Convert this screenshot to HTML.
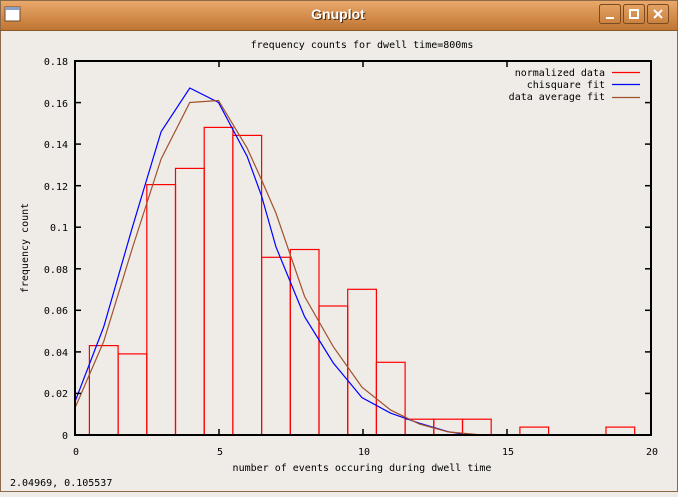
<!DOCTYPE html>
<html><head><style>
body{margin:0;width:678px;height:492px;overflow:hidden;background:#efebe7;}
</style></head><body>
<svg width="678" height="492" xmlns="http://www.w3.org/2000/svg" font-family="'DejaVu Sans Mono','Liberation Mono',monospace" font-size="10">
<defs>
<linearGradient id="tb" x1="0" y1="0" x2="0" y2="1">
<stop offset="0" stop-color="#e9a86a"/><stop offset="1" stop-color="#c07532"/>
</linearGradient>
</defs>
<rect x="0" y="0" width="678" height="492" fill="#efebe7"/>
<rect x="0.5" y="0.5" width="677" height="491" fill="none" stroke="#8a6a4a"/>
<rect x="1" y="1" width="676" height="29" fill="url(#tb)"/>
<line x1="0" y1="30.5" x2="678" y2="30.5" stroke="#8a5a2a"/>
<rect x="5" y="7" width="15" height="14" fill="#fff" stroke="#6a4a2a"/>
<rect x="5" y="7" width="15" height="3" fill="#8aa0c8"/>
<text x="339" y="20" text-anchor="middle" font-family="'Liberation Sans','DejaVu Sans',sans-serif" font-weight="bold" font-size="14" fill="#4a2a10">Gnuplot</text>
<text x="338" y="19" text-anchor="middle" font-family="'Liberation Sans','DejaVu Sans',sans-serif" font-weight="bold" font-size="14" fill="#fff">Gnuplot</text>
<g fill="none" stroke="#7a4a20">
<rect x="599.5" y="4.5" width="21" height="19" rx="2"/><rect x="623.5" y="4.5" width="21" height="19" rx="2"/><rect x="647.5" y="4.5" width="21" height="19" rx="2"/>
</g>
<g stroke="#fff" stroke-width="2" fill="none">
<line x1="606" y1="18" x2="614" y2="18"/>
<rect x="630" y="10" width="8" height="8"/>
<line x1="654" y1="10" x2="662" y2="18"/><line x1="662" y1="10" x2="654" y2="18"/>
</g>

<text x="362" y="48" text-anchor="middle">frequency counts for dwell time=800ms</text>

<!-- bars -->
<g fill="none" stroke="#ff0000" stroke-width="1.2">
<rect x="89.4" y="345.6" width="28.7" height="89.4"/>
<rect x="118.1" y="353.9" width="28.7" height="81.1"/>
<rect x="146.8" y="184.6" width="28.7" height="250.4"/>
<rect x="175.5" y="168.4" width="28.7" height="266.6"/>
<rect x="204.2" y="127.4" width="28.7" height="307.6"/>
<rect x="232.9" y="135.4" width="28.7" height="299.6"/>
<rect x="261.6" y="257.3" width="28.7" height="177.7"/>
<rect x="290.3" y="249.5" width="28.7" height="185.5"/>
<rect x="319" y="306" width="28.7" height="129"/>
<rect x="347.7" y="289.3" width="28.7" height="145.7"/>
<rect x="376.4" y="362.3" width="28.7" height="72.7"/>
<rect x="405.1" y="419.2" width="28.7" height="15.8"/>
<rect x="433.8" y="419.2" width="28.7" height="15.8"/>
<rect x="462.5" y="419.2" width="28.7" height="15.8"/>
<rect x="519.9" y="427.1" width="28.7" height="7.9"/>
<rect x="606" y="427.1" width="28.7" height="7.9"/>
</g>
<!-- chisquare blue -->
<polyline fill="none" stroke="#0000ff" stroke-width="1.2" points="75,401.7 103.7,326.9 132.4,227.2 161.1,131.7 189.8,88 218.5,102.5 247.2,156.5 261.6,196 275.9,246.7 304.6,316.7 333.3,363 362,397.6 390.7,413.2 419.4,423.2 448.1,431.7 462.5,434"/>
<!-- brown -->
<polyline fill="none" stroke="#a0522d" stroke-width="1.2" points="75,408 103.7,341.5 132.4,248 161.1,159 189.8,102.5 218.5,100.5 247.2,148.2 261.6,180 275.9,213 304.6,296.5 333.3,346.7 362,387.2 390.7,410.1 419.4,424 448.1,431.9 476.8,434.5"/>

<!-- axes -->
<rect x="75" y="61" width="576" height="374" fill="none" stroke="#000" stroke-width="2"/>
<g stroke="#000" stroke-width="1.5">
<line x1="75" y1="393.4" x2="81" y2="393.4"/><line x1="75" y1="351.9" x2="81" y2="351.9"/><line x1="75" y1="310.3" x2="81" y2="310.3"/><line x1="75" y1="268.8" x2="81" y2="268.8"/><line x1="75" y1="227.2" x2="81" y2="227.2"/><line x1="75" y1="185.7" x2="81" y2="185.7"/><line x1="75" y1="144.1" x2="81" y2="144.1"/><line x1="75" y1="102.6" x2="81" y2="102.6"/>
<line x1="651" y1="393.4" x2="645" y2="393.4"/><line x1="651" y1="351.9" x2="645" y2="351.9"/><line x1="651" y1="310.3" x2="645" y2="310.3"/><line x1="651" y1="268.8" x2="645" y2="268.8"/><line x1="651" y1="227.2" x2="645" y2="227.2"/><line x1="651" y1="185.7" x2="645" y2="185.7"/><line x1="651" y1="144.1" x2="645" y2="144.1"/><line x1="651" y1="102.6" x2="645" y2="102.6"/>
<line x1="219" y1="435" x2="219" y2="429"/><line x1="363" y1="435" x2="363" y2="429"/><line x1="507" y1="435" x2="507" y2="429"/>
<line x1="219" y1="61" x2="219" y2="67"/><line x1="363" y1="61" x2="363" y2="67"/><line x1="507" y1="61" x2="507" y2="67"/>
</g>
<g text-anchor="end">
<text x="68" y="439">0</text><text x="68" y="397">0.02</text><text x="68" y="356">0.04</text><text x="68" y="314">0.06</text><text x="68" y="273">0.08</text><text x="68" y="231">0.1</text><text x="68" y="190">0.12</text><text x="68" y="148">0.14</text><text x="68" y="107">0.16</text><text x="68" y="65">0.18</text>
</g>
<g text-anchor="middle">
<text x="76" y="455">0</text><text x="220" y="455">5</text><text x="364" y="455">10</text><text x="508" y="455">15</text><text x="652" y="455">20</text>
<text x="362" y="471">number of events occuring during dwell time</text>
</g>
<text x="28" y="248" text-anchor="middle" transform="rotate(-90 28 248)">frequency count</text>
<g text-anchor="end">
<text x="605" y="76">normalized data</text><text x="605" y="88">chisquare fit</text><text x="605" y="100">data average fit</text>
</g>
<line x1="612" y1="72.5" x2="640" y2="72.5" stroke="#ff0000" stroke-width="1.2"/>
<line x1="612" y1="84.5" x2="640" y2="84.5" stroke="#0000ff" stroke-width="1.2"/>
<line x1="612" y1="97.5" x2="640" y2="97.5" stroke="#a0522d" stroke-width="1.2"/>
<text x="10" y="486">2.04969,  0.105537</text>
</svg>
</body></html>
